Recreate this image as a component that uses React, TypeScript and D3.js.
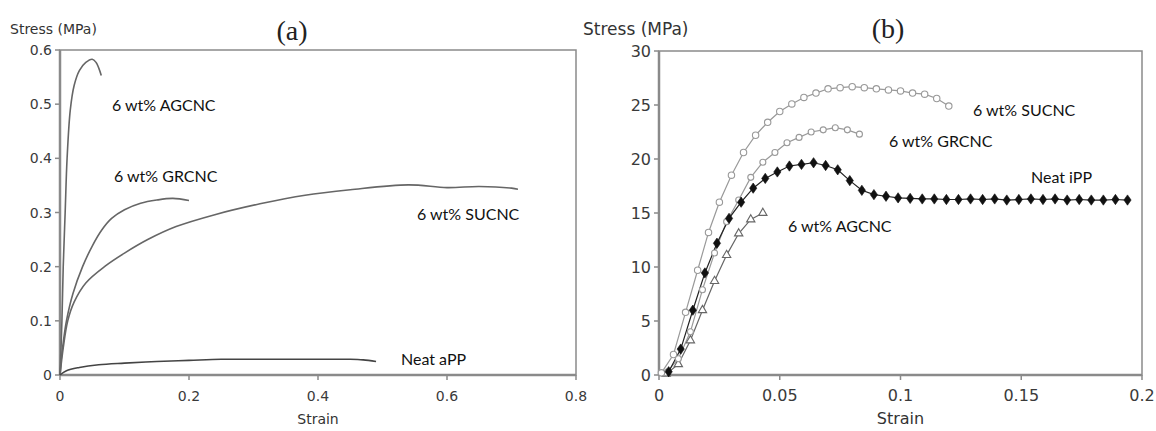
import * as d3 from "d3";
import { useEffect, useRef } from "react";

// panel (a) - tensile curves, strain vs stress (MPa)
const aTicksX = [0, 0.2, 0.4, 0.6, 0.8];
const aTicksY = [0, 0.1, 0.2, 0.3, 0.4, 0.5, 0.6];

const aAGCNC = [
  [0, 0], [0.003, 0.1], [0.005, 0.2], [0.008, 0.3], [0.011, 0.4], [0.016, 0.49],
  [0.022, 0.535], [0.03, 0.562], [0.04, 0.577], [0.05, 0.583], [0.056, 0.577],
  [0.06, 0.567], [0.064, 0.553],
];
const aGRCNC = [
  [0, 0], [0.002, 0.03], [0.005, 0.06], [0.01, 0.1], [0.02, 0.15], [0.035, 0.2],
  [0.05, 0.238], [0.065, 0.268], [0.08, 0.289], [0.1, 0.305], [0.125, 0.317],
  [0.15, 0.323], [0.175, 0.326], [0.2, 0.322],
];
const aSUCNC = [
  [0, 0], [0.005, 0.05], [0.012, 0.1], [0.022, 0.135], [0.04, 0.17], [0.07, 0.201],
  [0.1, 0.225], [0.136, 0.25], [0.18, 0.274], [0.24, 0.296], [0.31, 0.316],
  [0.38, 0.332], [0.45, 0.342], [0.54, 0.351], [0.6, 0.346], [0.65, 0.348],
  [0.7, 0.345], [0.71, 0.343],
];
const aNeatAPP = [
  [0, 0], [0.01, 0.008], [0.03, 0.014], [0.06, 0.019], [0.1, 0.022], [0.15, 0.025],
  [0.2, 0.027], [0.25, 0.029], [0.3, 0.029], [0.35, 0.029], [0.4, 0.029],
  [0.45, 0.029], [0.47, 0.028], [0.49, 0.025],
];

// panel (b)
const bTicksX = [0, 0.05, 0.1, 0.15, 0.2];
const bTicksY = [0, 5, 10, 15, 20, 25, 30];

const bSUCNC = [
  [0.001, 0.2], [0.006, 1.9], [0.011, 5.8], [0.016, 9.7], [0.0205, 13.2],
  [0.025, 16.0], [0.030, 18.5], [0.035, 20.6], [0.040, 22.2], [0.045, 23.4],
  [0.050, 24.4], [0.055, 25.1], [0.060, 25.7], [0.065, 26.1], [0.070, 26.5],
  [0.075, 26.6], [0.080, 26.7], [0.085, 26.6], [0.090, 26.5], [0.095, 26.4],
  [0.100, 26.3], [0.105, 26.1], [0.110, 26.0], [0.115, 25.6], [0.120, 24.9],
];
const bGRCNC = [
  [0.003, 0.2], [0.008, 1.5], [0.013, 4.0], [0.018, 7.9], [0.023, 11.3],
  [0.028, 14.2], [0.033, 16.2], [0.038, 18.3], [0.043, 19.7], [0.048, 20.6],
  [0.053, 21.5], [0.058, 22.0], [0.063, 22.5], [0.068, 22.7], [0.073, 22.9],
  [0.078, 22.7], [0.083, 22.3],
];
const bNeatIPP = [
  [0.004, 0.3], [0.009, 2.4], [0.014, 6.0], [0.019, 9.45], [0.024, 12.2],
  [0.029, 14.5], [0.034, 16.0], [0.039, 17.3], [0.044, 18.2], [0.049, 18.8],
  [0.054, 19.35], [0.059, 19.5], [0.064, 19.65], [0.069, 19.4], [0.074, 19.0],
  [0.079, 18.0], [0.084, 17.1], [0.089, 16.7], [0.094, 16.55], [0.099, 16.4],
  [0.104, 16.35], [0.109, 16.3], [0.114, 16.3], [0.119, 16.25], [0.124, 16.25],
  [0.129, 16.3], [0.134, 16.25], [0.139, 16.3], [0.144, 16.2], [0.149, 16.25],
  [0.154, 16.3], [0.159, 16.25], [0.164, 16.3], [0.169, 16.2], [0.174, 16.25],
  [0.179, 16.2], [0.184, 16.2], [0.189, 16.25], [0.194, 16.2],
];
const bAGCNC = [
  [0.003, 0.1], [0.008, 1.0], [0.013, 3.2], [0.018, 6.0], [0.023, 8.7],
  [0.028, 11.1], [0.033, 13.1], [0.038, 14.4], [0.043, 15.0],
];

const axisFont = "'DejaVu Sans', sans-serif";
const noteFont = "Lato, 'Open Sans', sans-serif";
const axisGray = "#8a8a8a";

const App = () => {
  const ref = useRef(null);

  useEffect(() => {
    const svg = d3.select(ref.current);
    svg.selectAll("*").remove();

    const drawFrame = (x, y, xTicks, yTicks, fmtX, fmtY, fs) => {
      const [x0, x1] = x.range();
      const [y0, y1] = y.range();
      const g = svg.append("g");
      g.append("rect")
        .attr("x", x0).attr("y", y1)
        .attr("width", x1 - x0).attr("height", y0 - y1)
        .attr("fill", "none").attr("stroke", axisGray).attr("stroke-width", 1.5);
      g.append("line").attr("x1", x0).attr("x2", x1).attr("y1", y0).attr("y2", y0)
        .attr("stroke", axisGray).attr("stroke-width", 2.5);
      g.append("line").attr("x1", x0).attr("x2", x0).attr("y1", y0).attr("y2", y1)
        .attr("stroke", axisGray).attr("stroke-width", 2.5);
      yTicks.forEach(t => {
        g.append("line").attr("x1", x0 - 5).attr("x2", x0).attr("y1", y(t)).attr("y2", y(t))
          .attr("stroke", axisGray).attr("stroke-width", 1.5);
        g.append("text").attr("x", x0 - 8).attr("y", y(t)).attr("dy", "0.36em")
          .attr("text-anchor", "end").attr("font-family", axisFont).attr("font-size", fs)
          .attr("fill", "#3a3a3a").text(fmtY(t));
      });
      xTicks.forEach(t => {
        g.append("line").attr("x1", x(t)).attr("x2", x(t)).attr("y1", y0).attr("y2", y0 + 5)
          .attr("stroke", axisGray).attr("stroke-width", 1.5);
        g.append("text").attr("x", x(t)).attr("y", y0 + 26)
          .attr("text-anchor", "middle").attr("font-family", axisFont).attr("font-size", fs)
          .attr("fill", "#3a3a3a").text(fmtX(t));
      });
    };

    const note = (txt, x, y) => {
      svg.append("text").attr("x", x).attr("y", y).attr("dy", "0.35em")
        .attr("font-family", noteFont).attr("font-size", 16).attr("fill", "#111")
        .text(txt);
    };

    // ---- panel (a)
    const xa = d3.scaleLinear().domain([0, 0.8]).range([60, 576]);
    const ya = d3.scaleLinear().domain([0, 0.6]).range([375, 50]);
    const f1 = d => d === 0 ? "0" : d3.format(".1f")(d);
    drawFrame(xa, ya, aTicksX, aTicksY, f1, f1, 14);

    const lineA = d3.line().x(d => xa(d[0])).y(d => ya(d[1])).curve(d3.curveCatmullRom.alpha(0.5));
    [aAGCNC, aGRCNC, aSUCNC, aNeatAPP].forEach((s, i) => {
      svg.append("path").attr("d", lineA(s)).attr("fill", "none")
        .attr("stroke", i === 3 ? "#444" : "#666").attr("stroke-width", 1.6);
    });

    svg.append("text").attr("x", 10).attr("y", 34).attr("font-family", axisFont)
      .attr("font-size", 14).attr("fill", "#333").text("Stress (MPa)");
    svg.append("text").attr("x", 292).attr("y", 40).attr("text-anchor", "middle")
      .attr("font-family", "'Liberation Serif', serif").attr("font-size", 28).attr("fill", "#222").text("(a)");
    svg.append("text").attr("x", xa(0.4)).attr("y", 424).attr("text-anchor", "middle")
      .attr("font-family", axisFont).attr("font-size", 14).attr("fill", "#333").text("Strain");

    note("6 wt% AGCNC", 112, 105);
    note("6 wt% GRCNC", 114, 176);
    note("6 wt% SUCNC", 417, 214);
    note("Neat aPP", 401, 359);

    // ---- panel (b)
    const xb = d3.scaleLinear().domain([0, 0.2]).range([659, 1142]);
    const yb = d3.scaleLinear().domain([0, 30]).range([375, 51]);
    drawFrame(xb, yb, bTicksX, bTicksY, d => d === 0 ? "0" : String(d), d => String(d), 16);

    const lineB = d3.line().x(d => xb(d[0])).y(d => yb(d[1]));

    const series = [
      { data: bAGCNC, color: "#666", marker: "tri" },
      { data: bGRCNC, color: "#999", marker: "sq" },
      { data: bSUCNC, color: "#999", marker: "circ" },
      { data: bNeatIPP, color: "#222", marker: "dia" },
    ];
    series.forEach(s => {
      svg.append("path").attr("d", lineB(s.data)).attr("fill", "none")
        .attr("stroke", s.color).attr("stroke-width", 1.2);
    });
    series.forEach(s => {
      const g = svg.append("g");
      s.data.forEach(d => {
        const cx = xb(d[0]), cy = yb(d[1]);
        if (s.marker === "circ") {
          g.append("circle").attr("cx", cx).attr("cy", cy).attr("r", 3.2)
            .attr("fill", "white").attr("stroke", s.color).attr("stroke-width", 1.1);
        } else if (s.marker === "sq") {
          g.append("circle").attr("cx", cx).attr("cy", cy).attr("r", 3)
            .attr("fill", "white").attr("stroke", s.color).attr("stroke-width", 1.1);
        } else if (s.marker === "tri") {
          g.append("path").attr("d", d3.symbol(d3.symbolTriangle, 30)())
            .attr("transform", `translate(${cx},${cy})`)
            .attr("fill", "white").attr("stroke", s.color).attr("stroke-width", 1.1);
        } else {
          g.append("path").attr("d", d3.symbol(d3.symbolDiamond, 34)())
            .attr("transform", `translate(${cx},${cy}) scale(1.15,0.95)`)
            .attr("fill", "#111").attr("stroke", "#111").attr("stroke-width", 0.6);
        }
      });
    });

    svg.append("text").attr("x", 583).attr("y", 35).attr("font-family", axisFont)
      .attr("font-size", 17).attr("fill", "#333").text("Stress (MPa)");
    svg.append("text").attr("x", 888).attr("y", 38).attr("text-anchor", "middle")
      .attr("font-family", "'Liberation Serif', serif").attr("font-size", 28).attr("fill", "#222").text("(b)");
    svg.append("text").attr("x", xb(0.1)).attr("y", 424).attr("text-anchor", "middle")
      .attr("font-family", axisFont).attr("font-size", 16).attr("fill", "#333").text("Strain");

    note("6 wt% SUCNC", 973, 110);
    note("6 wt% GRCNC", 889, 141);
    note("Neat iPP", 1031, 177);
    note("6 wt% AGCNC", 788, 226);
  }, []);

  return (
    <svg ref={ref} width={1156} height={431}
      style={{ position: "absolute", left: 0, top: 0, background: "white" }} />
  );
};

export default App;
